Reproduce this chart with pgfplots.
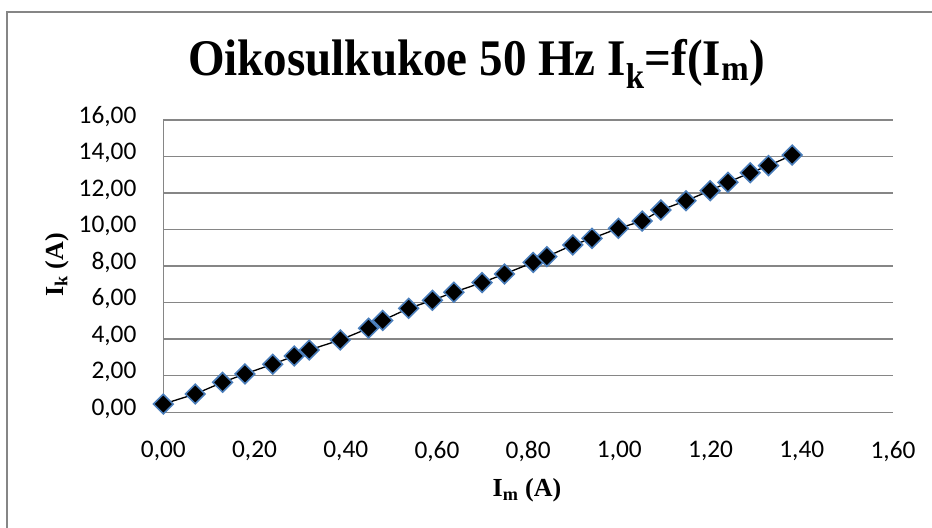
\documentclass[border=0pt]{standalone}
\usepackage{pgfplots}
\pgfplotsset{compat=1.18}
\usepackage{fontspec}
\setmainfont{Carlito}
\newfontfamily\tnr{Liberation Serif}
\definecolor{gridgray}{RGB}{134,134,134}
\definecolor{markblue}{RGB}{74,126,187}
\begin{document}
\begin{tikzpicture}
\useasboundingbox (0,0) rectangle (699pt,396pt);
\draw[gridgray, line width=1.1pt] (5.25pt,0pt) -- (5.25pt,387pt) -- (699pt,387pt);
\begin{axis}[
  at={(122.5pt,86.8pt)}, anchor=south west,
  scale only axis, width=547.25pt, height=219.2pt,
  xmin=0, xmax=1.6, ymin=0, ymax=16,
  xtick={0,0.2,0.4,0.6,0.8,1.0,1.2,1.4,1.6},
  ytick={0,2,4,6,8,10,12,14,16},
  axis lines*=left,
  axis line style={gridgray, line width=1.1pt},
  ymajorgrids,
  grid style={gridgray, line width=1.1pt},
  major tick length=0pt,
  clip=false,
  /pgf/number format/assume math mode=true,
  /pgf/number format/.cd, fixed, fixed zerofill, precision=2, use comma,
  /pgfplots/.cd,
  ticklabel style={font=\fontsize{19}{22}\selectfont, text=black, inner sep=0pt},
  yticklabel style={anchor=mid east, xshift=-20pt},
  xticklabel style={anchor=north, yshift=-21.5pt},
  title={\tnr\bfseries\fontsize{36}{40}\selectfont\scalebox{0.98}[1.07]{Oikosulkukoe 50 Hz I\textsubscript{k}=f(I\textsubscript{m})}},
  title style={at={(0.4292,1.1524)}, anchor=base, inner sep=0pt, yshift=-6pt},
  xlabel={\tnr\bfseries\fontsize{19.5}{22}\selectfont I\textsubscript{m} (A)},
  xlabel style={at={(0.4984,-0.2865)}, anchor=base, inner sep=0pt},
  ylabel={\tnr\bfseries\fontsize{19.5}{22}\selectfont I\textsubscript{k} (A)},
  ylabel style={at={(-0.1457,0.5039)}, anchor=center, inner sep=0pt},
]
\addplot[black, line width=1pt, mark=square*, mark size=5.2pt,
  mark options={rotate=45, fill=black, draw=markblue, line width=1.2pt}]
  table {
x y
0.000 0.45
0.070 1.00
0.130 1.64
0.179 2.10
0.240 2.63
0.287 3.08
0.320 3.41
0.388 3.96
0.450 4.60
0.481 5.03
0.538 5.69
0.590 6.13
0.637 6.57
0.699 7.10
0.748 7.57
0.811 8.20
0.841 8.52
0.898 9.16
0.940 9.52
0.998 10.07
1.050 10.47
1.091 11.07
1.146 11.58
1.199 12.13
1.238 12.59
1.287 13.11
1.327 13.50
1.379 14.08
};
\end{axis}
\end{tikzpicture}
\end{document}
